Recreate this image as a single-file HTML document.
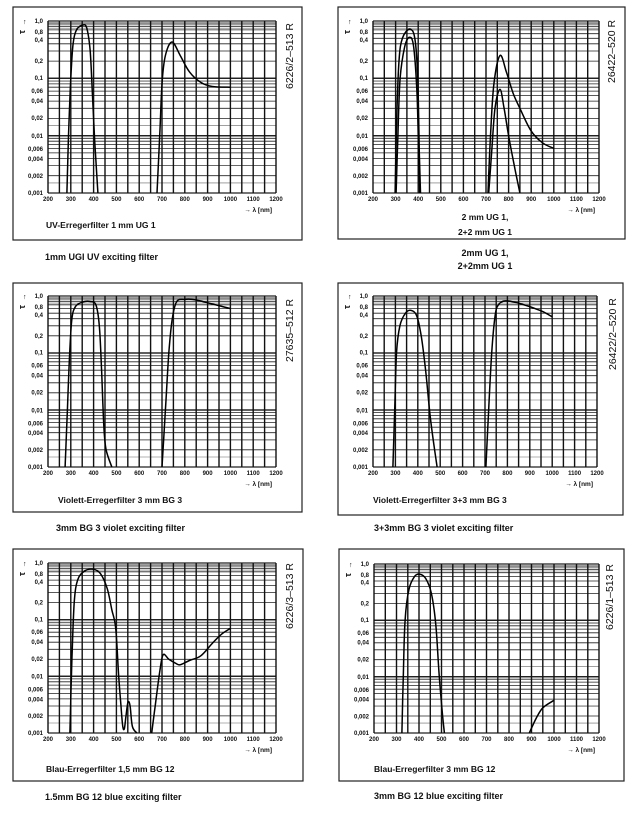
<!DOCTYPE html>
<html><head><meta charset="utf-8">
<style>
html,body{margin:0;padding:0;background:#fff;}
body{width:636px;height:815px;overflow:hidden;position:relative;font-family:"Liberation Sans",sans-serif;}
svg{position:absolute;left:0;top:0;}
</style></head>
<body>
<svg id="s" width="636" height="815" viewBox="0 0 636 815" xmlns="http://www.w3.org/2000/svg"></svg>
<script>
const S=document.getElementById('s');
let out='';
function txt(x,y,t,o){o=o||{};out+=`<text x="${x}" y="${y}" font-family="Liberation Sans, sans-serif" font-weight="${o.fw||'bold'}" font-size="${o.fs||6}" text-anchor="${o.a||'start'}" ${o.tr?`transform="${o.tr}"`:''} fill="#111">${t}</text>`;}
function chart(c){
  const {bx,by,bw,bh,px0,px1,py0,py1}=c;
  out+=`<rect x="${bx}" y="${by}" width="${bw}" height="${bh}" fill="none" stroke="#222" stroke-width="1.2"/>`;
  const X=v=>px0+(v-200)/1000*(px1-px0);
  const Y=v=>py0+(-Math.log10(v))/3*(py1-py0);
  for(let k=0;k<3;k++){for(let d=1;d<=10;d++){const v=d*Math.pow(10,-k-1);const y=Y(v);
    const w=(d==10||d==1)?1.3:0.8;
    out+=`<line x1="${px0}" y1="${y.toFixed(1)}" x2="${px1}" y2="${y.toFixed(1)}" stroke="#222" stroke-width="${w}"/>`;
    if(d==10&&k<2){out+=`<line x1="${px0}" y1="${(y+3).toFixed(1)}" x2="${px1}" y2="${(y+3).toFixed(1)}" stroke="#888" stroke-width="1"/>`;}
  }}
  for(const v of [0.95,0.85,0.75,0.015,0.0015,0.003]){const y=Y(v);out+=`<line x1="${px0}" y1="${y.toFixed(1)}" x2="${px1}" y2="${y.toFixed(1)}" stroke="#666" stroke-width="0.6"/>`;}
  for(let n=200;n<=1200;n+=50){const x=X(n);out+=`<line x1="${x.toFixed(1)}" y1="${py0}" x2="${x.toFixed(1)}" y2="${py1}" stroke="#111" stroke-width="1.4"/>`;}
  const yl=[['1,0',0],['0,8',11],['0,4',19],['0,2',40],['0,1',57],['0,06',70],['0,04',80],['0,02',97],['0,01',115],['0,006',128],['0,004',138],['0,002',155],['0,001',172]];
  const sc=(py1-py0)/172;
  for(const [t,o] of yl) txt(px0-5,py0+o*sc+2,t,{a:'end',fs:6});
  for(let n=200;n<=1200;n+=100) txt(X(n),py1+8,n,{a:'middle',fs:6});
  txt(px1-4,py1+19,'→ λ [nm]',{a:'end',fs:6.5});
  txt(bx+12,py0+13,'τ',{fs:9,tr:`rotate(-90 ${bx+12} ${py0+13})`});
  txt(bx+10,py0+3,'↑',{fs:7});
  const ly=py0+c.len;
  txt(c.lx+9,ly,c.code,{fs:10.5,fw:'normal',tr:`rotate(-90 ${c.lx+9} ${ly})`});
  for(const pts of c.curves){
    const P=pts.map(p=>[X(p[0]),Y(p[1])]);
    let d=`M${P[0][0].toFixed(1)},${P[0][1].toFixed(1)}`;
    for(let i=0;i<P.length-1;i++){const p0=P[Math.max(0,i-1)],p1=P[i],p2=P[i+1],p3=P[Math.min(P.length-1,i+2)];
      const c1=[p1[0]+(p2[0]-p0[0])/6,p1[1]+(p2[1]-p0[1])/6],c2=[p2[0]-(p3[0]-p1[0])/6,p2[1]-(p3[1]-p1[1])/6];
      d+=` C${c1[0].toFixed(1)},${c1[1].toFixed(1)} ${c2[0].toFixed(1)},${c2[1].toFixed(1)} ${p2[0].toFixed(1)},${p2[1].toFixed(1)}`;}
    out+=`<path d="${d}" fill="none" stroke="#000" stroke-width="1.5"/>`;
  }
}
chart({bx:13,by:7,bw:289,bh:233,px0:48,px1:276,py0:21,py1:193,lx:284,len:68,code:'6226/2–513 R',curves:[
 [[283,0.001],[290,0.01],[300,0.1],[310,0.4],[325,0.7],[353,0.85],[370,0.75],[385,0.3],[395,0.05],[405,0.008],[419,0.001]],
 [[678,0.001],[690,0.01],[700,0.08],[715,0.25],[744,0.43],[780,0.25],[820,0.13],[870,0.085],[920,0.072],[1000,0.07]]]});
chart({bx:338,by:7,bw:287,bh:232,px0:373,px1:599,py0:21,py1:193,lx:606,len:62,code:'26422–520 R',curves:[
 [[298,0.001],[305,0.02],[315,0.2],[330,0.5],[362,0.72],[385,0.5],[398,0.1],[405,0.005],[410,0.001]],
 [[302,0.001],[310,0.01],[320,0.1],[340,0.35],[362,0.52],[380,0.35],[395,0.05],[403,0.003],[406,0.001]],
 [[709,0.001],[720,0.01],[735,0.08],[762,0.25],[790,0.13],[820,0.055],[850,0.03],[900,0.012],[950,0.0075],[1000,0.006]],
 [[712,0.001],[725,0.005],[740,0.03],[762,0.064],[780,0.03],[800,0.01],[825,0.003],[850,0.001]]]});
chart({bx:13,by:283,bw:289,bh:229,px0:48,px1:276,py0:296,py1:467,lx:284,len:66,code:'27635–512 R',curves:[
 [[275,0.001],[285,0.01],[295,0.1],[305,0.4],[320,0.65],[350,0.78],[385,0.8],[410,0.7],[425,0.3],[435,0.05],[445,0.005],[455,0.002],[480,0.001]],
 [[700,0.001],[715,0.01],[730,0.1],[745,0.4],[765,0.8],[800,0.87],[850,0.85],[1000,0.6]]]});
chart({bx:338,by:283,bw:285,bh:232,px0:373,px1:597,py0:296,py1:467,lx:607,len:74,code:'26422/2–520 R',curves:[
 [[289,0.001],[297,0.01],[305,0.1],[320,0.3],[345,0.5],[370,0.56],[395,0.45],[415,0.2],[435,0.05],[455,0.008],[475,0.002],[486,0.001]],
 [[704,0.001],[715,0.008],[730,0.1],[745,0.45],[760,0.7],[790,0.82],[850,0.75],[950,0.55],[1000,0.43]]]});
chart({bx:13,by:549,bw:290,bh:232,px0:48,px1:276,py0:563,py1:733,lx:284,len:66,code:'6226/3–513 R',curves:[
 [[296,0.001],[305,0.02],[315,0.2],[330,0.5],[360,0.72],[397,0.78],[430,0.65],[460,0.35],[480,0.15],[497,0.07],[510,0.01],[520,0.003],[528,0.0013],[535,0.0012],[542,0.002],[551,0.0035],[560,0.003],[570,0.0013],[590,0.001]],
 [[655,0.001],[670,0.003],[690,0.012],[705,0.024],[730,0.02],[760,0.017],[780,0.016],[820,0.019],[870,0.023],[920,0.038],[960,0.055],[1000,0.07]]]});
chart({bx:339,by:549,bw:285,bh:232,px0:374,px1:599,py0:564,py1:733,lx:604,len:66,code:'6226/1–513 R',curves:[
 [[324,0.001],[330,0.01],[338,0.1],[355,0.35],[380,0.6],[404,0.66],[430,0.55],[455,0.3],[475,0.08],[490,0.01],[505,0.002],[513,0.001]],
 [[890,0.001],[920,0.0018],[950,0.0028],[1000,0.0038]]]});
txt(46,228,'UV-Erregerfilter 1 mm UG 1',{fs:8.5});
txt(45,260,'1mm UGI UV exciting filter',{fs:9});
txt(485,220,'2 mm UG 1,',{fs:8.5,a:'middle'});
txt(485,235,'2+2 mm UG 1',{fs:8.5,a:'middle'});
txt(485,256,'2mm UG 1,',{fs:9,a:'middle'});
txt(485,269,'2+2mm UG 1',{fs:9,a:'middle'});
txt(58,503,'Violett-Erregerfilter 3 mm BG 3',{fs:8.5});
txt(56,531,'3mm BG 3 violet exciting filter',{fs:9});
txt(373,503,'Violett-Erregerfilter 3+3 mm BG 3',{fs:8.5});
txt(374,531,'3+3mm BG 3 violet exciting filter',{fs:9});
txt(46,772,'Blau-Erregerfilter 1,5 mm BG 12',{fs:8.5});
txt(45,800,'1.5mm BG 12 blue exciting filter',{fs:9});
txt(374,772,'Blau-Erregerfilter 3 mm BG 12',{fs:8.5});
txt(374,799,'3mm BG 12 blue exciting filter',{fs:9});
S.innerHTML=out;
</script>
</body></html>
